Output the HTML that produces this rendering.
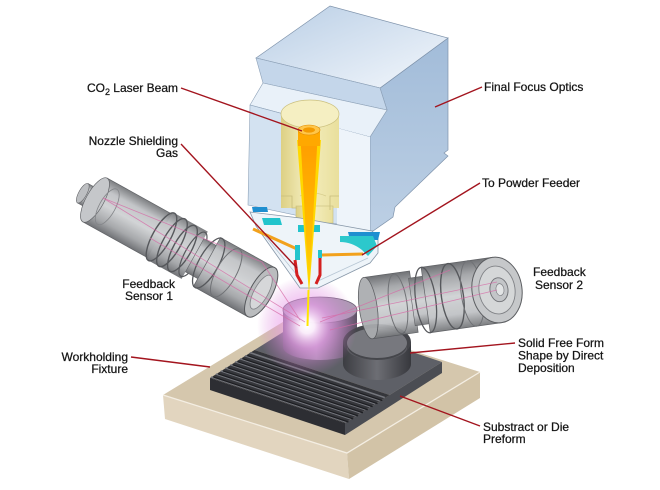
<!DOCTYPE html>
<html><head><meta charset="utf-8"><style>
html,body{margin:0;padding:0;background:#fff;}
svg{display:block;}
text{font-family:"Liberation Sans",sans-serif;font-size:12px;fill:#151515;stroke:#151515;stroke-width:0.25;}
</style></head><body>
<svg width="660" height="490" viewBox="0 0 660 490" xmlns="http://www.w3.org/2000/svg">
<defs>
<linearGradient id="gS" x1="0" y1="0" x2="0" y2="1">
<stop offset="0" stop-color="#747679"/><stop offset="0.22" stop-color="#bfc1c4"/><stop offset="0.5" stop-color="#cfd1d3"/><stop offset="0.8" stop-color="#a0a2a5"/><stop offset="1" stop-color="#66686c"/>
</linearGradient>
<linearGradient id="gTop" x1="0" y1="0" x2="1" y2="1">
<stop offset="0" stop-color="#b9cee5"/><stop offset="1" stop-color="#f3f7fc"/>
</linearGradient>
<linearGradient id="gRight" x1="0" y1="0" x2="0" y2="1">
<stop offset="0" stop-color="#a2bcd9"/><stop offset="1" stop-color="#bccfe4"/>
</linearGradient>
<linearGradient id="gCream" x1="0" y1="0" x2="1" y2="0">
<stop offset="0" stop-color="#ddd084"/><stop offset="0.45" stop-color="#f4eebf"/><stop offset="1" stop-color="#e9df9c"/>
</linearGradient>
<linearGradient id="gCore" x1="0" y1="0" x2="0" y2="1">
<stop offset="0" stop-color="#ff9a00"/><stop offset="0.7" stop-color="#ffbf00"/><stop offset="1" stop-color="#ffe000"/>
</linearGradient>
<linearGradient id="gC1" x1="0" y1="0" x2="1" y2="0">
<stop offset="0" stop-color="#6c5d76"/><stop offset="0.45" stop-color="#a893b0"/><stop offset="1" stop-color="#5e5266"/>
</linearGradient>
<linearGradient id="gC2" x1="0" y1="0" x2="1" y2="0">
<stop offset="0" stop-color="#3c3d42"/><stop offset="0.5" stop-color="#6d6e74"/><stop offset="1" stop-color="#37383d"/>
</linearGradient>
<radialGradient id="gGlow" cx="307" cy="326" r="50" gradientUnits="userSpaceOnUse">
<stop offset="0" stop-color="#ffffff" stop-opacity="1"/><stop offset="0.15" stop-color="#fff2ff" stop-opacity="0.95"/><stop offset="0.45" stop-color="#ee9cee" stop-opacity="0.6"/><stop offset="1" stop-color="#d070d0" stop-opacity="0"/>
</radialGradient>
</defs>

<!-- beige base -->
<polygon points="163,395 347,453 349,479 165,419" fill="#e2d5bf"/>
<polygon points="347,453 480,372 480,398 349,479" fill="#d2c3a7"/>
<polygon points="163,395 296,314 480,372 347,453" fill="#d5c7ad"/>
<polyline points="163,395 347,453 480,372" fill="none" stroke="#f4eee3" stroke-width="1.3"/>

<!-- plate -->
<polygon points="210,378 345,423 345,435 210,390" fill="#2d2e33"/>
<polygon points="345,423 442,362 442,373 345,435" fill="#4b4d53"/>
<polygon points="254.6,350 389.6,395 442,362 307,317" fill="#5e6067"/>
<polygon points="210,378 345,423 389.6,395 254.6,350" fill="#35363b"/>
<g stroke="#74767d" stroke-width="1.6">
<line x1="211" y1="377" x2="346" y2="422"/>
<line x1="215.8" y1="374" x2="350.8" y2="419"/>
<line x1="220.7" y1="370.9" x2="355.7" y2="415.9"/>
<line x1="225.5" y1="367.9" x2="360.5" y2="412.9"/>
<line x1="230.4" y1="364.8" x2="365.4" y2="409.8"/>
<line x1="235.2" y1="361.8" x2="370.2" y2="406.8"/>
<line x1="240.1" y1="358.7" x2="375.1" y2="403.7"/>
<line x1="244.9" y1="355.7" x2="379.9" y2="400.7"/>
<line x1="249.8" y1="352.6" x2="384.8" y2="397.6"/>
</g>
<g stroke="#1c1d21" stroke-width="1.2">
<line x1="213.4" y1="377" x2="348.4" y2="422"/>
<line x1="218.2" y1="373.9" x2="353.2" y2="418.9"/>
<line x1="223.1" y1="370.9" x2="358.1" y2="415.9"/>
<line x1="227.9" y1="367.8" x2="362.9" y2="412.8"/>
<line x1="232.8" y1="364.8" x2="367.8" y2="409.8"/>
<line x1="237.6" y1="361.7" x2="372.6" y2="406.7"/>
<line x1="242.5" y1="358.7" x2="377.5" y2="403.7"/>
<line x1="247.3" y1="355.6" x2="382.3" y2="400.6"/>
</g>

<!-- cylinder 1 (purple) -->
<rect x="283" y="310" width="74" height="37" fill="url(#gC1)"/>
<ellipse cx="320" cy="347" rx="37" ry="13" fill="url(#gC1)"/>
<ellipse cx="320" cy="310" rx="37" ry="13" fill="#ad9bb4" stroke="#6e6276" stroke-width="0.8"/>

<!-- cylinder 2 (dark hollow) -->
<rect x="343" y="342" width="68" height="22" fill="url(#gC2)"/>
<ellipse cx="377" cy="364" rx="34" ry="16" fill="url(#gC2)"/>
<ellipse cx="377" cy="342" rx="34" ry="18" fill="#45464b"/>
<ellipse cx="377" cy="343" rx="30" ry="15" fill="#77787e"/>
<path d="M347,345 A30,15 0 0 0 407,345 L407,348 A30,12 0 0 1 347,348 Z" fill="#5a5b61"/>

<!-- glow -->
<circle cx="307" cy="326" r="50" fill="url(#gGlow)"/>

<!-- sensor 1 -->
<g transform="translate(95,200) rotate(29)" opacity="0.93">
<rect x="-14" y="-11" width="16" height="22" fill="url(#gS)" stroke="#55575b" stroke-width="0.6"/>
<ellipse cx="-14" cy="0" rx="4" ry="11" fill="#b9bbbe" stroke="#55575b" stroke-width="0.6"/>
<rect x="0" y="-25" width="76" height="50" fill="url(#gS)" stroke="#55575b" stroke-width="0.7"/>
<ellipse cx="0" cy="0" rx="9" ry="25" fill="#c1c3c6" stroke="#55575b" stroke-width="0.7"/>
<ellipse cx="14" cy="0" rx="8" ry="20" fill="none" stroke="#7a7c80" stroke-width="0.8"/>
<rect x="74" y="-27" width="40" height="54" fill="url(#gS)"/>
<ellipse cx="76" cy="0" rx="9" ry="27" fill="none" stroke="#4a4c50" stroke-width="1.4"/>
<ellipse cx="88" cy="0" rx="9" ry="27" fill="none" stroke="#4a4c50" stroke-width="1.4"/>
<ellipse cx="100" cy="0" rx="9" ry="26" fill="none" stroke="#4a4c50" stroke-width="1.4"/>
<ellipse cx="112" cy="0" rx="8" ry="25" fill="none" stroke="#4a4c50" stroke-width="1.2"/>
<rect x="114" y="-19" width="16" height="38" fill="url(#gS)" stroke="#55575b" stroke-width="0.6"/>
<rect x="128" y="-28" width="62" height="56" fill="url(#gS)" stroke="#55575b" stroke-width="0.7"/>
<ellipse cx="130" cy="0" rx="10" ry="28" fill="none" stroke="#4a4c50" stroke-width="1.3"/>
<ellipse cx="150" cy="0" rx="10" ry="27" fill="none" stroke="#66686c" stroke-width="1"/>
<ellipse cx="190" cy="0" rx="11" ry="28" fill="#b5b7ba" stroke="#4a4c50" stroke-width="1"/>
<ellipse cx="190" cy="0" rx="7" ry="19" fill="#d3d5d7" stroke="#77797d" stroke-width="0.8"/>
</g>

<!-- sensor 2 -->
<g transform="translate(497,290) rotate(172)" opacity="0.93">
<rect x="84" y="-31" width="46" height="62" fill="url(#gS)" stroke="#55575b" stroke-width="0.7"/>
<ellipse cx="130" cy="0" rx="9" ry="31" fill="#aaacaf" stroke="#55575b" stroke-width="0.8"/>
<ellipse cx="100" cy="0" rx="9" ry="30" fill="none" stroke="#66686c" stroke-width="1"/>
<rect x="70" y="-24" width="16" height="48" fill="url(#gS)" stroke="#55575b" stroke-width="0.6"/>
<rect x="0" y="-33" width="72" height="66" fill="url(#gS)" stroke="#55575b" stroke-width="0.7"/>
<ellipse cx="72" cy="0" rx="10" ry="33" fill="none" stroke="#4a4c50" stroke-width="1.3"/>
<ellipse cx="45" cy="0" rx="11" ry="33" fill="none" stroke="#4a4c50" stroke-width="1.4"/>
<ellipse cx="25" cy="0" rx="11" ry="33" fill="none" stroke="#66686c" stroke-width="1"/>
<ellipse cx="0" cy="0" rx="25" ry="33" fill="#c2c4c7" stroke="#505256" stroke-width="1"/>
<ellipse cx="0" cy="0" rx="18" ry="24" fill="#d2d4d6" stroke="#77797d" stroke-width="0.9"/>
<ellipse cx="-2" cy="0" rx="9" ry="12" fill="#bfc1c4" stroke="#66686c" stroke-width="0.9"/>
<ellipse cx="-3" cy="0" rx="4" ry="6" fill="#e0e2e4" stroke="#77797d" stroke-width="0.7"/>
</g>

<!-- pink sensing lines -->
<g stroke="#d66aa6" stroke-width="0.8" opacity="0.75" fill="none">
<line x1="103" y1="198" x2="305" y2="322"/>
<line x1="103" y1="198" x2="262" y2="262"/>
<line x1="262" y1="262" x2="300" y2="320"/>
<line x1="150" y1="238" x2="300" y2="326"/>
<line x1="497" y1="282" x2="322" y2="318"/>
<line x1="497" y1="290" x2="330" y2="330"/>
<line x1="450" y1="270" x2="320" y2="322"/>
</g>

<!-- optics box -->
<polygon points="380,88 448,38 448,150 444,153 448,156 395,207 393,217 373,231 370,231 370,137 387,110" fill="url(#gRight)" stroke="#7f93ab" stroke-width="0.7"/>
<polygon points="256,58 330,6 448,38 380,88" fill="url(#gTop)" stroke="#7f93ab" stroke-width="0.7"/>
<polygon points="256,58 380,88 387,110 263,83" fill="#c4d6ea" stroke="#8ea2b8" stroke-width="0.6"/>
<polygon points="263,83 387,110 370,137 250,105" fill="#e9f1f9" stroke="#8ea2b8" stroke-width="0.6"/>
<polygon points="250,105 370,137 370,231 248,205" fill="#d3e2f1" stroke="#8ea2b8" stroke-width="0.6"/>
<polygon points="337,128 370,137 370,231 337,225" fill="#eef4fa"/>
<rect x="281" y="114" width="58" height="94" fill="url(#gCream)"/>
<rect x="296" y="206" width="37" height="17" fill="url(#gCream)" stroke="#c7bd7c" stroke-width="0.6"/>
<path d="M281,196 L292,196 L292,208 L297,208" fill="none" stroke="#c7bd7c" stroke-width="0.8"/>
<path d="M339,196 L330,196 L330,210" fill="none" stroke="#c7bd7c" stroke-width="0.8"/>
<path d="M300,196 Q312,190 326,196" fill="none" stroke="#d6cc8c" stroke-width="0.8"/>
<ellipse cx="310" cy="114" rx="29" ry="14" fill="#f5efc2" stroke="#cbc07e" stroke-width="0.7"/>

<!-- nozzle -->
<polygon points="250,212 256,226 300,288 318,288 370,263 378,253 378,238 372,231 300,218" fill="#eef4f9" stroke="#8797a8" stroke-width="0.8"/>
<polyline points="262,232 301,280" fill="none" stroke="#b7c6d4" stroke-width="0.8"/>
<polyline points="368,258 318,281" fill="none" stroke="#b7c6d4" stroke-width="0.8"/>
<line x1="253" y1="229" x2="297" y2="249" stroke="#f2a11c" stroke-width="3"/>
<line x1="322" y1="255" x2="363" y2="254" stroke="#f2a11c" stroke-width="3"/>
<polygon points="252,207 267,207 268,212 253,212" fill="#1f8fd0"/>
<polygon points="348,232 380,232 378,240 350,240" fill="#1f8fd0"/>
<polygon points="262,218 280,218 282,225 264,225" fill="#22c4cc"/>
<polygon points="298,225 320,225 320,232 298,232" fill="#22c4cc"/>
<path d="M340,236 L373,236 L377,246 L368,256 L362,250 Q352,242 340,242 Z" fill="#2cc8cc"/>
<rect x="295" y="245" width="5" height="15" fill="#22c4cc"/>
<rect x="318" y="250" width="4" height="8" fill="#22c4cc"/>
<polyline points="295,260 297,275 302,284" fill="none" stroke="#d42020" stroke-width="3"/>
<polyline points="320,258 320,275 316,284" fill="none" stroke="#d42020" stroke-width="3"/>

<!-- laser beam -->
<polygon points="297,140 321,140 309,294" fill="#ffd800"/>
<polygon points="300,130 318,130 309,290" fill="url(#gCore)"/>
<rect x="298" y="130" width="22" height="16" fill="#ffa800"/>
<ellipse cx="309" cy="130" rx="11" ry="5" fill="#ffc64a" stroke="#e08c00" stroke-width="0.6"/>
<ellipse cx="309" cy="130" rx="6" ry="2.6" fill="#f39a00"/>
<line x1="308.5" y1="290" x2="307.5" y2="326" stroke="#ffe600" stroke-width="2"/>

<!-- leader lines -->
<g stroke="#a3141e" stroke-width="1.4" fill="none">
<line x1="181" y1="88" x2="302" y2="131"/>
<line x1="181" y1="144" x2="297" y2="268"/>
<line x1="482" y1="87" x2="435" y2="107"/>
<line x1="480" y1="183" x2="362" y2="255"/>
<line x1="131" y1="357" x2="210" y2="367"/>
<line x1="515" y1="343" x2="410" y2="353"/>
<line x1="480" y1="426" x2="400" y2="396"/>
</g>

<!-- labels -->
<text x="178" y="92" text-anchor="end">CO<tspan dy="3" font-size="9">2</tspan><tspan dy="-3"> Laser Beam</tspan></text>
<text x="178" y="145" text-anchor="end">Nozzle Shielding</text>
<text x="178" y="157" text-anchor="end">Gas</text>
<text x="484" y="91">Final Focus Optics</text>
<text x="482" y="187">To Powder Feeder</text>
<text x="175" y="288" text-anchor="end">Feedback</text>
<text x="173" y="300" text-anchor="end">Sensor 1</text>
<text x="533" y="276">Feedback</text>
<text x="535" y="289">Sensor 2</text>
<text x="128" y="361" text-anchor="end">Workholding</text>
<text x="128" y="373" text-anchor="end">Fixture</text>
<text x="518" y="347">Solid Free Form</text>
<text x="518" y="359.5">Shape by Direct</text>
<text x="518" y="372">Deposition</text>
<text x="483" y="431">Substract or Die</text>
<text x="483" y="443">Preform</text>
</svg>
</body></html>
